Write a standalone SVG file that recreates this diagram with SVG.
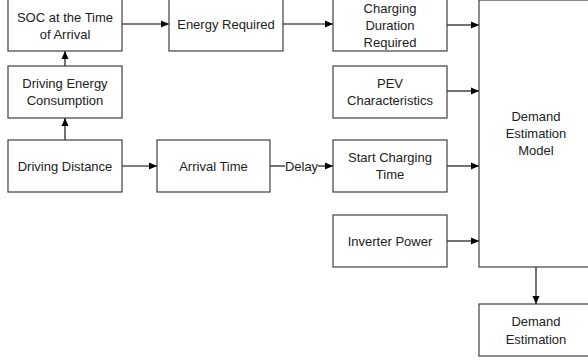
<svg xmlns="http://www.w3.org/2000/svg" width="588" height="360" viewBox="0 0 588 360">
<style>
.box{fill:#fff;stroke:#404040;stroke-width:1.2}
.lbl{font-family:"Liberation Sans",Arial,sans-serif;font-size:13px;fill:#222;text-anchor:middle;dominant-baseline:central}
.con{stroke:#000;stroke-width:1.1;fill:none}
.arr{marker-end:url(#ah)}
</style>
<defs>
<marker id="ah" viewBox="0 0 8 8" refX="8" refY="4" markerWidth="8" markerHeight="8" markerUnits="userSpaceOnUse" orient="auto">
<path d="M0,0.5 L8,4 L0,7.5 Z" fill="#000"/>
</marker>
</defs>
<rect width="588" height="360" fill="#fff"/>
<g id="connectors">
<path class="con arr" d="M65,140 V118"/>
<path class="con arr" d="M65,66 V51"/>
<path class="con arr" d="M122,24 H169"/>
<path class="con arr" d="M283,24 H333"/>
<path class="con arr" d="M122,166 H157"/>
<path class="con" d="M270,166 H285"/>
<path class="con arr" d="M318,166 H333"/>
<path class="con arr" d="M447,25 H479"/>
<path class="con arr" d="M447,91 H479"/>
<path class="con arr" d="M447,166 H479"/>
<path class="con arr" d="M447,241 H479"/>
<path class="con arr" d="M536,267 V304"/>
<text class="lbl" x="301.5" y="166">Delay</text>
</g>
<g id="soc"><rect class="box" x="8" y="-1" width="114" height="52"/><text class="lbl" x="65" y="17">SOC at the Time</text><text class="lbl" x="65" y="34">of Arrival</text></g>
<g id="energy-consumption"><rect class="box" x="8" y="66" width="114" height="52"/><text class="lbl" x="65" y="83">Driving Energy</text><text class="lbl" x="65" y="100">Consumption</text></g>
<g id="driving-distance"><rect class="box" x="8" y="140" width="114" height="52"/><text class="lbl" x="65" y="166">Driving Distance</text></g>
<g id="energy-required"><rect class="box" x="169" y="-1" width="114" height="52"/><text class="lbl" x="226" y="24">Energy Required</text></g>
<g id="arrival-time"><rect class="box" x="157" y="140" width="113" height="52"/><text class="lbl" x="213.5" y="166">Arrival Time</text></g>
<g id="charging-duration"><rect class="box" x="333" y="-1" width="114" height="52"/><text class="lbl" x="390" y="8">Charging</text><text class="lbl" x="390" y="25">Duration</text><text class="lbl" x="390" y="42">Required</text></g>
<g id="pev"><rect class="box" x="333" y="66" width="114" height="52"/><text class="lbl" x="390" y="83">PEV</text><text class="lbl" x="390" y="100">Characteristics</text></g>
<g id="start-charging"><rect class="box" x="333" y="140" width="114" height="52"/><text class="lbl" x="390" y="157">Start Charging</text><text class="lbl" x="390" y="174">Time</text></g>
<g id="inverter"><rect class="box" x="333" y="215" width="114" height="52"/><text class="lbl" x="390" y="241">Inverter Power</text></g>
<g id="model"><rect class="box" x="479" y="0" width="114" height="267"/><text class="lbl" x="536" y="116">Demand</text><text class="lbl" x="536" y="133">Estimation</text><text class="lbl" x="536" y="150">Model</text></g>
<g id="demand-estimation"><rect class="box" x="479" y="304" width="114" height="52"/><text class="lbl" x="536" y="321">Demand</text><text class="lbl" x="536" y="339">Estimation</text></g>
</svg>
